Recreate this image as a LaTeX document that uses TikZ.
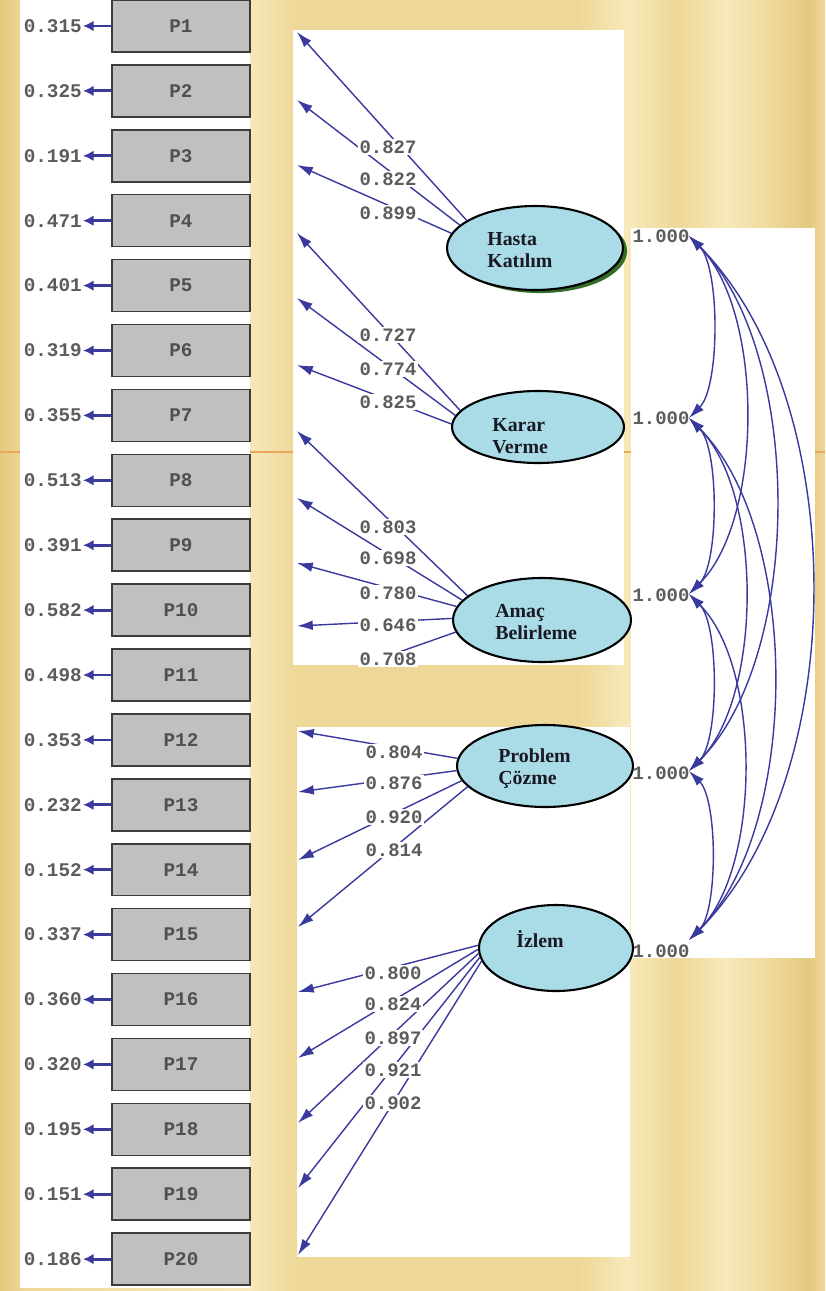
\documentclass[tikz,border=0pt]{standalone}
\usepackage{fontspec}
\setmainfont{Liberation Serif}
\newfontfamily\monof{Liberation Mono}
\usetikzlibrary{arrows.meta,shapes.geometric}
\definecolor{goldA}{RGB}{238,216,152}
\definecolor{goldB}{RGB}{247,233,186}
\definecolor{goldC}{RGB}{228,200,125}
\definecolor{arrc}{RGB}{58,58,158}
\definecolor{numc}{RGB}{92,92,92}
\definecolor{boxtext}{RGB}{80,80,80}
\definecolor{boxfill}{RGB}{192,192,192}
\definecolor{boxline}{RGB}{60,60,60}
\definecolor{ellfill}{RGB}{170,220,232}
\definecolor{shadowg}{RGB}{50,110,40}
\definecolor{orangeline}{RGB}{236,168,90}
\pgfdeclarehorizontalshading{goldstreak}{100bp}{color(0bp)=(goldA); color(25bp)=(goldC); color(26.5bp)=(goldA); color(40bp)=(goldB); color(43bp)=(goldA); color(60bp)=(goldA); color(63bp)=(goldB); color(66bp)=(goldA); color(69bp)=(goldB); color(72bp)=(goldA); color(74bp)=(goldC); color(75bp)=(goldA); color(100bp)=(goldA)}
\tikzset{
  obs/.style={rectangle, draw=boxline, fill=boxfill, line width=0.9pt, minimum width=2.76cm, minimum height=1.04cm, inner sep=0pt, font=\monof\bfseries\fontsize{11}{12}\selectfont, text=boxtext},
  errlab/.style={inner sep=0.5pt, font=\monof\bfseries\fontsize{11}{12}\selectfont, text=numc},
  loadlab/.style={inner sep=0.8pt, fill=white, font=\monof\bfseries\fontsize{10.8}{12}\selectfont, text=numc},
  onelab/.style={inner sep=0pt, font=\monof\bfseries\fontsize{10.8}{12}\selectfont, text=numc},
  errarr/.style={draw=arrc, line width=1.6pt, -{Latex[length=6pt,width=6pt]}},
  loadarr/.style={draw=arrc, line width=0.8pt, -{Latex[length=9pt,width=5.5pt]}},
  corr/.style={draw=arrc, line width=0.8pt, {Latex[length=9pt,width=5.5pt]}-{Latex[length=9pt,width=5.5pt]}},
  lat/.style={ellipse, draw=black, line width=1.2pt, fill=ellfill, inner sep=0pt},
  lattext/.style={align=left, inner sep=0pt, font=\bfseries\fontsize{11.3}{12.5}\selectfont, text={rgb,255:red,25;green,25;blue,35}},
  panel/.style={fill=white, draw=none}
}
\begin{document}
\begin{tikzpicture}[x=0.02cm, y=-0.02cm]
% background
\useasboundingbox (0,0) rectangle (825,1291);
\shade[shading=goldstreak] (0,0) rectangle (825,1291);
\draw[orangeline, line width=0.8pt] (0,452) -- (825,452);
% white panels
\fill[panel] (20,0) rectangle (250,1288);
\fill[panel] (293,30) rectangle (624,665);
\fill[panel] (297,727) rectangle (630,1257);
\fill[panel] (631,228) rectangle (815,958);

% observed variables and error variances
\foreach \i/\v in {1/0.315,2/0.325,3/0.191,4/0.471,5/0.401,6/0.319,7/0.355,8/0.513,9/0.391,10/0.582,11/0.498,12/0.353,13/0.232,14/0.152,15/0.337,16/0.360,17/0.320,18/0.195,19/0.151,20/0.186}{
  \pgfmathsetmacro\yy{26+(\i-1)*64.9}
  \node[obs] (P\i) at (181,\yy) {P\i};
  \node[errlab, anchor=east] (E\i) at (83,\yy) {\v};
  \draw[errarr] (P\i.west) -- (E\i.east);
}

% 1.000 labels
\node[onelab] (r1) at (661,236) {1.000};
\node[onelab] (r2) at (661,418) {1.000};
\node[onelab] (r3) at (661,595) {1.000};
\node[onelab] (r4) at (661,773) {1.000};
\node[onelab] (r5) at (661,951) {1.000};

% latent variables
\node[lat, fill=shadowg, draw=shadowg, minimum width=3.44cm, minimum height=1.64cm] (hkshadow) at (540,251) {};
\node[lat, minimum width=3.52cm, minimum height=1.68cm] (hk) at (535,248) {};
\node[lat, minimum width=3.44cm, minimum height=1.44cm] (kv) at (538,427) {};
\node[lat, minimum width=3.56cm, minimum height=1.68cm] (ab) at (542,620) {};
\node[lat, minimum width=3.52cm, minimum height=1.64cm] (pc) at (545,766) {};
\node[lat, minimum width=3.08cm, minimum height=1.72cm] (iz) at (556,948) {};
\node[lattext, anchor=west] (hkt) at (487,250) {Hasta\\Katılım};
\node[lattext, anchor=west] (kvt) at (492,436) {Karar\\Verme};
\node[lattext, anchor=west] (abt) at (495,622) {Amaç\\Belirleme};
\node[lattext, anchor=west] (pct) at (498,769) {Problem\\Çözme};
\node[lattext, anchor=west] (izt) at (516,939) {İzlem};

% loading arrow tips
\coordinate (t1) at (297,32);
\coordinate (t2) at (297,100);
\coordinate (t3) at (297,165);
\coordinate (t4) at (297,233);
\coordinate (t5) at (297,298);
\coordinate (t6) at (297,365);
\coordinate (t7) at (297,431);
\coordinate (t8) at (297,498);
\coordinate (t9) at (297,563);
\coordinate (t10) at (297,626);
\coordinate (t11) at (297,688);
\coordinate (t12) at (298,731);
\coordinate (t13) at (298,792);
\coordinate (t14) at (298,860);
\coordinate (t15) at (298,927);
\coordinate (t16) at (298,992);
\coordinate (t17) at (298,1058);
\coordinate (t18) at (298,1123);
\coordinate (t19) at (298,1188);
\coordinate (t20) at (298,1255);

% loadings
\draw[loadarr] (hk.158) -- (t1);
\draw[loadarr] (hk.163) -- (t2);
\draw[loadarr] (hk.170) -- (t3);
\draw[loadarr] (kv.168) -- (t4);
\draw[loadarr] (kv.172) -- (t5);
\draw[loadarr] (kv.178) -- (t6);
\draw[loadarr] (ab.162) -- (t7);
\draw[loadarr] (ab.166) -- (t8);
\draw[loadarr] (ab.171) -- (t9);
\draw[loadarr] (ab.179) -- (t10);
\begin{scope}
\clip (290,30) rectangle (630,665);
\draw[loadarr] (ab.188) -- (t11);
\end{scope}
\draw[loadarr] (pc.175) -- (t12);
\draw[loadarr] (pc.183) -- (t13);
\draw[loadarr] (pc.190) -- (t14);
\draw[loadarr] (pc.195) -- (t15);
\draw[loadarr] (iz.178) -- (t16);
\draw[loadarr] (iz.181) -- (t17);
\draw[loadarr] (iz.184) -- (t18);
\draw[loadarr] (iz.187) -- (t19);
\draw[loadarr] (iz.190) -- (t20);

% loading labels
\node[loadlab] (l1) at (388,147) {0.827};
\node[loadlab] (l2) at (388,179) {0.822};
\node[loadlab] (l3) at (388,213) {0.899};
\node[loadlab] (l4) at (388,335) {0.727};
\node[loadlab] (l5) at (388,369) {0.774};
\node[loadlab] (l6) at (388,402) {0.825};
\node[loadlab] (l7) at (388,527) {0.803};
\node[loadlab] (l8) at (388,558) {0.698};
\node[loadlab] (l9) at (388,593) {0.780};
\node[loadlab] (l10) at (388,625) {0.646};
\node[loadlab] (l11) at (388,659) {0.708};
\node[loadlab] (l12) at (394,752) {0.804};
\node[loadlab] (l13) at (394,783) {0.876};
\node[loadlab] (l14) at (394,817) {0.920};
\node[loadlab] (l15) at (394,850) {0.814};
\node[loadlab] (l16) at (393,973) {0.800};
\node[loadlab] (l17) at (393,1004) {0.824};
\node[loadlab] (l18) at (393,1038) {0.897};
\node[loadlab] (l19) at (393,1070) {0.921};
\node[loadlab] (l20) at (393,1103) {0.902};

% correlation endpoints
\coordinate (c1) at (689,236);
\coordinate (c2) at (689,418);
\coordinate (c3) at (689,594);
\coordinate (c4) at (689,771);
\coordinate (c5) at (689,940);

% correlations
\draw[corr] (c1) to[bend left=45, looseness=0.62] (c2);
\draw[corr] (c2) to[bend left=45, looseness=0.62] (c3);
\draw[corr] (c3) to[bend left=45, looseness=0.62] (c4);
\draw[corr] (c4) to[bend left=45, looseness=0.62] (c5);
\draw[corr] (c1) to[bend left=45, looseness=0.76] (c3);
\draw[corr] (c2) to[bend left=45, looseness=0.76] (c4);
\draw[corr] (c3) to[bend left=45, looseness=0.76] (c5);
\draw[corr] (c1) to[bend left=45, looseness=0.78] (c4);
\draw[corr] (c2) to[bend left=45, looseness=0.78] (c5);
\draw[corr] (c1) to[bend left=45, looseness=0.84] (c5);
\end{tikzpicture}
\end{document}
